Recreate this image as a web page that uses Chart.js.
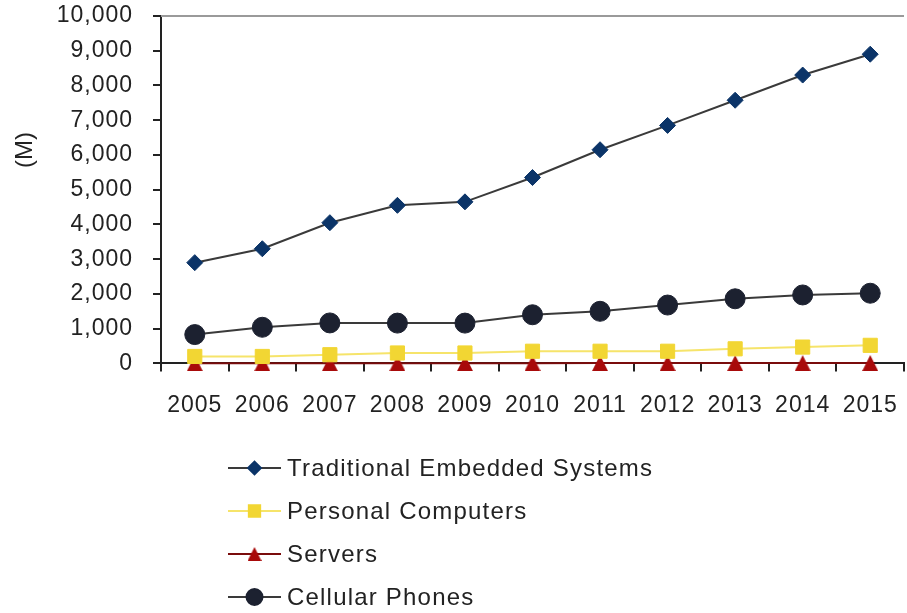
<!DOCTYPE html>
<html>
<head>
<meta charset="utf-8">
<script src="https://cdn.jsdelivr.net/npm/chart.js@4/dist/chart.umd.min.js"></script>
<style>
  html, body { margin: 0; padding: 0; background: #fff; }
  #wrap { width: 907px; height: 613px; }
</style>
</head>
<body>
<div id="wrap"><canvas id="myCanvas"></canvas></div>
<script>
let canvas = document.getElementById("myCanvas");

// years on the x axis
const anios = ["2005","2006","2007","2008","2009","2010","2011","2012","2013","2014","2015"];
// units, millions
const embebidos = [2900, 3300, 4050, 4550, 4650, 5350, 6150, 6850, 7575, 8300, 8900];
const computadoras = [200, 200, 250, 300, 300, 350, 350, 350, 420, 470, 520];
const servidores = [5, 5, 6, 6, 7, 7, 8, 8, 9, 9, 10];
const celulares = [830, 1040, 1165, 1160, 1160, 1400, 1500, 1680, 1860, 1970, 2020];
const ticksY = [0, 1000, 2000, 3000, 4000, 5000, 6000, 7000, 8000, 9000, 10000];

const fuente = "'Liberation Sans', Arial, sans-serif";

// triangle marker centred on its box, so it straddles the axis
const triangulo = (lado, color) => {
  let c = document.createElement("canvas");
  c.width = lado;
  c.height = lado;
  let g = c.getContext("2d");
  g.fillStyle = color;
  g.beginPath();
  g.moveTo(lado / 2, 0);
  g.lineTo(lado, lado);
  g.lineTo(0, lado);
  g.closePath();
  g.fill();
  return c;
};
const triServ = triangulo(16, "#a80a0a");
const triLeyenda = triangulo(14, "#a80a0a");

// a bit of letter spacing on the axis labels
const espaciado = {
  id: "espaciado",
  beforeInit(chart) { chart.ctx.letterSpacing = "1px"; },
  beforeDraw(chart) { chart.ctx.letterSpacing = "1px"; }
};

// legend drawn under the axis: line + marker + label, one per row
const leyenda = {
  id: "leyenda",
  afterDraw(chart) {
    const ctx = chart.ctx;
    const x0 = 228, x1 = 281, yIni = 468, paso = 43;
    chart.data.datasets.forEach((ds, i) => {
      let y = yIni + i * paso;
      ctx.save();
      ctx.strokeStyle = ds.borderColor;
      ctx.lineWidth = ds.borderWidth;
      ctx.beginPath();
      ctx.moveTo(x0, y);
      ctx.lineTo(x1, y);
      ctx.stroke();
      ctx.fillStyle = ds.pointBackgroundColor;
      ctx.strokeStyle = ds.pointBorderColor;
      let estilo = ds.pointStyle === triServ ? triLeyenda : ds.pointStyle;
      Chart.helpers.drawPoint(ctx, {
        pointStyle: estilo,
        radius: ds.pointRadius * 0.8,
        borderWidth: 1,
        rotation: 0
      }, (x0 + x1) / 2, y);
      ctx.fillStyle = "#222";
      ctx.font = "24px " + fuente;
      ctx.letterSpacing = "1.2px";
      ctx.textBaseline = "middle";
      ctx.fillText(ds.label, x1 + 6, y + 1);
      ctx.restore();
    });
  }
};

// gray frame line along the top of the plot and the (M) unit title
const marco = {
  id: "marco",
  beforeDatasetsDraw(chart) {
    const a = chart.chartArea;
    const ctx = chart.ctx;
    ctx.save();
    ctx.strokeStyle = "#9a9a9a";
    ctx.lineWidth = 2;
    ctx.beginPath();
    ctx.moveTo(a.left, a.top);
    ctx.lineTo(a.right, a.top);
    ctx.stroke();
    ctx.translate(25, 150);
    ctx.rotate(-Math.PI / 2);
    ctx.fillStyle = "#222";
    ctx.font = "24px " + fuente;
    ctx.letterSpacing = "0px";
    ctx.textAlign = "center";
    ctx.textBaseline = "middle";
    ctx.fillText("(M)", 0, 0);
    ctx.restore();
  }
};

const generarGrafica = () => {
  window.chart = new Chart(canvas, {
    type: "line",
    data: {
      labels: anios,
      datasets: [
        {
          label: "Traditional Embedded Systems",
          data: embebidos,
          borderColor: "#3a3a3a",
          borderWidth: 2,
          pointStyle: "rectRot",
          pointRadius: 8,
          pointBackgroundColor: "#0b3468",
          pointBorderColor: "#0b3468",
          pointBorderWidth: 1
        },
        {
          label: "Personal Computers",
          data: computadoras,
          borderColor: "#f6e46a",
          borderWidth: 2,
          pointStyle: "rect",
          pointRadius: 10,
          pointBackgroundColor: "#f2d633",
          pointBorderColor: "#f2d633",
          pointBorderWidth: 1
        },
        {
          label: "Servers",
          data: servidores,
          borderColor: "#7a0c0c",
          borderWidth: 2,
          pointStyle: triServ,
          pointRadius: 9,
          pointBackgroundColor: "#a80a0a",
          pointBorderColor: "#a80a0a",
          pointBorderWidth: 1
        },
        {
          label: "Cellular Phones",
          data: celulares,
          borderColor: "#3a3a3a",
          borderWidth: 2,
          pointStyle: "circle",
          pointRadius: 10,
          pointBackgroundColor: "#1c2130",
          pointBorderColor: "#1c2130",
          pointBorderWidth: 1
        }
      ]
    },
    options: {
      responsive: true,
      maintainAspectRatio: false,
      animation: false,
      clip: false,
      layout: {
        autoPadding: false,
        padding: { left: 41, right: 3, top: 16, bottom: 174 }
      },
      plugins: {
        legend: { display: false },
        tooltip: { enabled: false }
      },
      scales: {
        x: {
          offset: true,
          afterFit: (eje) => {
            eje.paddingLeft = 0;
            eje.paddingRight = 0;
          },
          grid: {
            offset: true,
            drawOnChartArea: false,
            drawTicks: true,
            tickLength: 8,
            color: "#222",
            lineWidth: 2
          },
          border: { color: "#222", width: 2 },
          ticks: {
            color: "#222",
            padding: 20,
            maxRotation: 0,
            autoSkip: false,
            font: { family: fuente, size: 23 }
          }
        },
        y: {
          min: 0,
          max: 10000,
          afterBuildTicks: (eje) => {
            eje.ticks = ticksY.map((v) => ({ value: v }));
          },
          afterFit: (eje) => {
            eje.width = 120;
            eje.paddingTop = 0;
            eje.paddingBottom = 0;
          },
          grid: {
            drawOnChartArea: false,
            drawTicks: true,
            tickLength: 8,
            color: "#222",
            lineWidth: 2
          },
          border: { color: "#222", width: 2 },
          ticks: {
            color: "#222",
            padding: 20,
            autoSkip: false,
            font: { family: fuente, size: 23 },
            callback: (v) => v.toLocaleString("en-US")
          }
        }
      }
    },
    plugins: [espaciado, marco, leyenda]
  });
};

generarGrafica();
</script>
</body>
</html>
